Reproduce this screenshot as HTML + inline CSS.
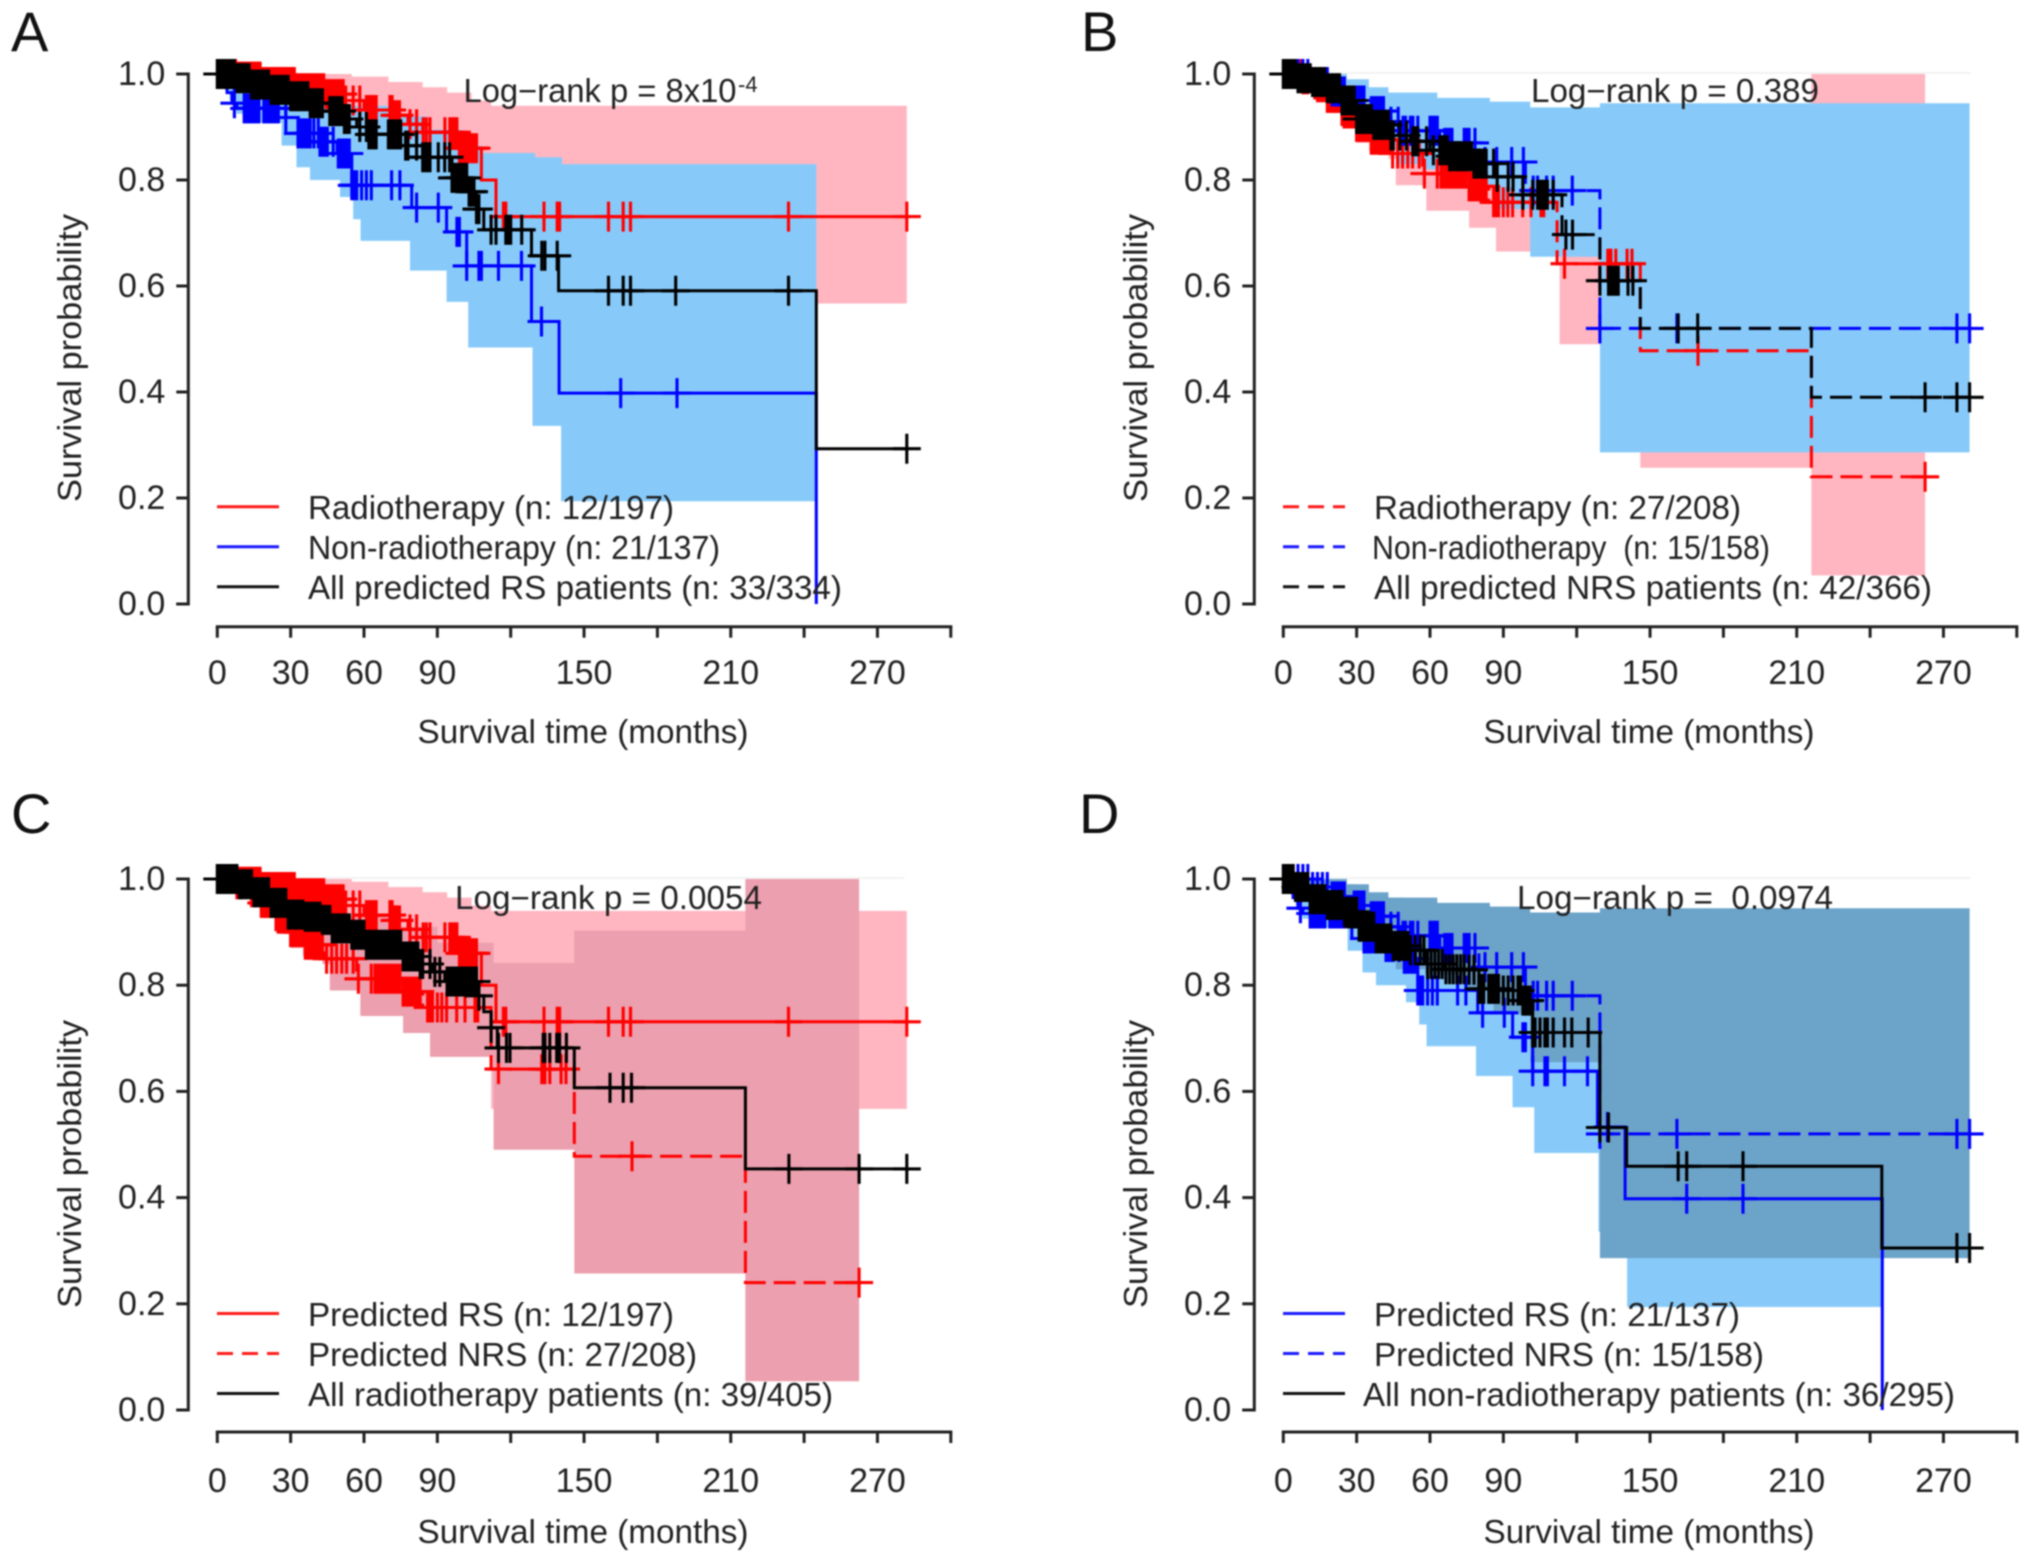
<!DOCTYPE html>
<html lang="en">
<head>
<meta charset="utf-8">
<title>Kaplan-Meier survival curves</title>
<style>
html,body{margin:0;padding:0;background:#fff;width:2031px;height:1561px;overflow:hidden}
svg{display:block;filter:blur(0.85px)}
text{font-family:"Liberation Sans",Arial,sans-serif;fill:#222}
.t{font-size:33px}
.n{font-size:34px}
.l{font-size:56px;fill:#111}
</style>
</head>
<body>
<svg id="figure" xmlns="http://www.w3.org/2000/svg" width="2031" height="1561" viewBox="0 0 2031 1561">
  <rect width="2031" height="1561" fill="#fff"/>

  <g id="panel-a"></g>
  <g id="panel-b"></g>
  <g id="panel-c"></g>
  <g id="panel-d"></g>

  <!-- Panel A text -->
  <text class="l" x="11" y="51">A</text>
  <text class="t" transform="translate(81,358) rotate(-90)" text-anchor="middle" textLength="288" lengthAdjust="spacingAndGlyphs">Survival probability</text>
  <text class="t" x="583" y="743" text-anchor="middle" textLength="331" lengthAdjust="spacingAndGlyphs">Survival time (months)</text>
  <text class="t" x="463.5" y="102" textLength="273" lengthAdjust="spacingAndGlyphs">Log−rank p = 8x10</text>
  <text x="738" y="92" style="font-size:22px">-4</text>
  <line x1="217" x2="279" y1="506.7" y2="506.7" stroke="#ff1a1a" stroke-width="3"/>
  <line x1="217" x2="279" y1="546.7" y2="546.7" stroke="#1a1aff" stroke-width="3"/>
  <line x1="217" x2="279" y1="586.7" y2="586.7" stroke="#111" stroke-width="3"/>
  <text class="t" x="308" y="519" textLength="366" lengthAdjust="spacingAndGlyphs">Radiotherapy (n: 12/197)</text>
  <text class="t" x="308" y="559" textLength="412" lengthAdjust="spacingAndGlyphs">Non-radiotherapy (n: 21/137)</text>
  <text class="t" x="308" y="599" textLength="534" lengthAdjust="spacingAndGlyphs">All predicted RS patients (n: 33/334)</text>

  <!-- Panel B text -->
  <text class="l" x="1081" y="51">B</text>
  <text class="t" transform="translate(1147,358) rotate(-90)" text-anchor="middle" textLength="288" lengthAdjust="spacingAndGlyphs">Survival probability</text>
  <text class="t" x="1649" y="743" text-anchor="middle" textLength="331" lengthAdjust="spacingAndGlyphs">Survival time (months)</text>
  <text class="t" x="1531" y="102" textLength="288" lengthAdjust="spacingAndGlyphs">Log−rank p = 0.389</text>
  <line x1="1283" x2="1345" y1="506.7" y2="506.7" stroke="#ff1a1a" stroke-width="3" stroke-dasharray="16 9"/>
  <line x1="1283" x2="1345" y1="546.7" y2="546.7" stroke="#1a1aff" stroke-width="3" stroke-dasharray="16 9"/>
  <line x1="1283" x2="1345" y1="586.7" y2="586.7" stroke="#111" stroke-width="3" stroke-dasharray="16 9"/>
  <text class="t" x="1374" y="519" textLength="367" lengthAdjust="spacingAndGlyphs">Radiotherapy (n: 27/208)</text>
  <text class="t" x="1372" y="559" xml:space="preserve" textLength="398" lengthAdjust="spacingAndGlyphs">Non-radiotherapy  (n: 15/158)</text>
  <text class="t" x="1374" y="599" textLength="558" lengthAdjust="spacingAndGlyphs">All predicted NRS patients (n: 42/366)</text>

  <!-- Panel C text -->
  <text class="l" x="11" y="833">C</text>
  <text class="t" transform="translate(81,1164) rotate(-90)" text-anchor="middle" textLength="288" lengthAdjust="spacingAndGlyphs">Survival probability</text>
  <text class="t" x="583" y="1543" text-anchor="middle" textLength="331" lengthAdjust="spacingAndGlyphs">Survival time (months)</text>
  <text class="t" x="455" y="909" textLength="307" lengthAdjust="spacingAndGlyphs">Log−rank p = 0.0054</text>
  <line x1="217" x2="279" y1="1313.5" y2="1313.5" stroke="#ff1a1a" stroke-width="3"/>
  <line x1="217" x2="279" y1="1353.5" y2="1353.5" stroke="#ff1a1a" stroke-width="3" stroke-dasharray="16 9"/>
  <line x1="217" x2="279" y1="1393.5" y2="1393.5" stroke="#111" stroke-width="3"/>
  <text class="t" x="308" y="1326" textLength="366" lengthAdjust="spacingAndGlyphs">Predicted RS (n: 12/197)</text>
  <text class="t" x="308" y="1366" textLength="389" lengthAdjust="spacingAndGlyphs">Predicted NRS (n: 27/208)</text>
  <text class="t" x="308" y="1406" textLength="525" lengthAdjust="spacingAndGlyphs">All radiotherapy patients (n: 39/405)</text>

  <!-- Panel D text -->
  <text class="l" x="1079" y="833">D</text>
  <text class="t" transform="translate(1147,1164) rotate(-90)" text-anchor="middle" textLength="288" lengthAdjust="spacingAndGlyphs">Survival probability</text>
  <text class="t" x="1649" y="1543" text-anchor="middle" textLength="331" lengthAdjust="spacingAndGlyphs">Survival time (months)</text>
  <text class="t" x="1517" y="909" xml:space="preserve" textLength="316" lengthAdjust="spacingAndGlyphs">Log−rank p =  0.0974</text>
  <line x1="1283" x2="1345" y1="1313.5" y2="1313.5" stroke="#1a1aff" stroke-width="3"/>
  <line x1="1283" x2="1345" y1="1353.5" y2="1353.5" stroke="#1a1aff" stroke-width="3" stroke-dasharray="16 9"/>
  <line x1="1283" x2="1345" y1="1393.5" y2="1393.5" stroke="#111" stroke-width="3"/>
  <text class="t" x="1374" y="1326" textLength="366" lengthAdjust="spacingAndGlyphs">Predicted RS (n: 21/137)</text>
  <text class="t" x="1374" y="1366" textLength="390" lengthAdjust="spacingAndGlyphs">Predicted NRS (n: 15/158)</text>
  <text class="t" x="1363" y="1406" textLength="592" lengthAdjust="spacingAndGlyphs">All non-radiotherapy patients (n: 36/295)</text>
</svg>

<script>
// Axis ticks
const xTickValues = [0,30,60,90,120,150,180,210,240,270,300];
const xTickLabels = ['0','30','60','90','','150','','210','','270',''];
const yTickValues = [0,0.2,0.4,0.6,0.8,1];
const yTickLabels = ['0.0','0.2','0.4','0.6','0.8','1.0'];

// Predicted RS, radiotherapy
const rsRadioTimes = [0,8,18,32,44,52,60,72,78,84,99,108,114,282];
const rsRadioSurv = [1,.995,.985,.973,.962,.95,.932,.922,.905,.89,.86,.80,.731,.731];
const rsRadioCensor = [6.5,7.5,8.5,9.5,10.5,11.5,12.5,13.5,14.5,15.5,16.5,17.5,18.5,19.5,20.5,21.5,22.5,23.5,24.5,25.5,26.5,27.5,28.5,29.5,30.5,31.5,32.5,33.5,34.5,35.5,36.5,37.5,38.5,39.5,40.5,41.5,42.5,43.5,44.5,45.5,46.5,47.5,48.5,49.5,50.5,51.5,52.5,55.6,58.3,61,62,63,64,65,70.6,71.5,72.5,73.5,74.5,78.8,81.5,84.2,85.5,87,93.1,95.1,96,97,98,99,100,101,102,103,104,105,106,117,118,133.6,139,140,160,166,169,233.6,282];
const rsRadioUpperTimes = [0,45,55,70,84,94,104,112,282];
const rsRadioUpper = [1,1,.995,.985,.975,.965,.95,.94,.94];
const rsRadioLowerTimes = [0,40,70,90,100,112,282];
const rsRadioLower = [1,.93,.88,.83,.76,.567,.567];

// Predicted RS, non-radiotherapy
const rsNonTimes = [0,3,4,6,8,28,33,42,49,55,79.5,93.8,102,128.5,139.8,245];
const rsNonSurv = [1,.985,.965,.945,.935,.918,.888,.872,.85,.79,.748,.702,.638,.533,.398,0];
const rsNonCensor = [.4,2,7,11,12,13,14,15,16,17,19,20,21,22,23,24,25,28,33,34,35,36,37,38,39.5,41.3,42,43,44,45,47.4,49.5,50,51,52,53,54,55,56,57,59,61,63,71.3,74.7,81.5,90.4,98,99,102,107,108,115,124.4,132.6,165,188];
const rsNonUpperTimes = [0,10,30,50,70,85,100,108,130,141,245];
const rsNonUpper = [1,.99,.965,.94,.92,.895,.865,.851,.843,.83,.83];
const rsNonLowerTimes = [0,3,5,7.9,12,26.3,32.4,37.9,50.2,55.6,58.6,78.8,93.8,102.6,128.9,140.6,245];
const rsNonLower = [1,.97,.95,.925,.908,.865,.824,.8,.768,.726,.685,.629,.57,.484,.336,.194,.194];

// All predicted RS
const rsAllTimes = [0,8,14,22,30,38,46,52,57,62,77,84,96,103,106,109,128.5,139.6,245,282];
const rsAllSurv = [1,.992,.98,.97,.958,.945,.93,.915,.90,.886,.865,.843,.804,.778,.745,.706,.657,.591,.293,.293];
const rsAllCensor = [0,1,2,3,4,5,6,7,8,9,10,11,12,13,14,15,16,17,18,19,20,21,22,23,24,25,26,27,28,29,30,31,32,33,34,35,36,37,38,39,40,41,42,43,46,47,48,49,50,51,52,53,54,58.3,61,62,63,64,65,70,71,72,73,74,75,77,78,81.5,84,85,86,87,90.4,93,95,96,97,98,99,100,101,102,103,104,105,106,107,112,114,118,119,120,124.5,132.7,134,139,160,166,169,187.5,233.6,282];

// Predicted NRS, radiotherapy
const nrsRadioTimes = [0,8,13,18,24,30,36,44,57,76,84,112,146,216,263];
const nrsRadioSurv = [1,.99,.975,.955,.93,.90,.876,.85,.812,.788,.758,.642,.478,.24,.24];
const nrsRadioCensor = [2,3,4,5,6,7,8,9,10,14,15,16,17,18,19,20,21,22,23,24,25,26,27,28,29,30,31,32,33,34,35,36,37,38,39,40,41,42,43,44.7,46.8,48.8,50.9,52.9,55.6,57.7,63,64.5,65.5,66.5,67.5,68.5,69.5,70.5,71.5,72.5,73.5,74.7,76,77,78,79,80,81,82,83,86,87,88,90,91.8,93.8,97.9,101.3,105.4,106.5,115,132.7,133.5,134,136,140.6,142.6,169.6,262.5];
const nrsRadioUpperTimes = [0,15,30,50,70,90,113,146,216,262.5];
const nrsRadioUpper = [1,.985,.955,.93,.91,.88,.842,.903,1,1];
const nrsRadioLowerTimes = [0,10,18,25,30,35,43,46,58.5,76,87,113,146,216,262.5];
const nrsRadioLower = [1,.98,.95,.91,.87,.855,.84,.79,.742,.71,.665,.49,.257,.054,.054];

// Predicted NRS, non-radiotherapy
const nrsNonTimes = [0,12,20,28,35,44,48,64,80,99,129.5,280.7];
const nrsNonSurv = [1,.985,.967,.95,.93,.91,.893,.87,.834,.78,.52,.52];
const nrsNonCensor = [2,4,6,8,10,12,14,16,18,20,21,22,23,24,25,29,30,31,32,33,36,37,38,39,40,41,44,47,49,50,52,53,55,60,61,62,63,66,67,68,69,74,75,76,78.4,82.5,87.3,93.4,98.2,102.2,104,107.7,110.4,118.2,129.5,161,275.5,280.7];
const nrsNonUpperTimes = [0,26,35,43,63,84.5,101,129.5,280.7];
const nrsNonUpper = [1,.99,.975,.965,.955,.948,.937,.945,.945];
const nrsNonLowerTimes = [0,8,20,30,38,46,58,75,86,101,129.5,280.7];
const nrsNonLower = [1,.98,.95,.91,.87,.83,.82,.79,.745,.655,.286,.286];

// All predicted NRS
const nrsAllTimes = [0,6,12,18,24,30,37,44,52,60,68,78,87,98,114,129.5,146,216,281];
const nrsAllSurv = [1,.992,.985,.973,.95,.915,.904,.884,.873,.856,.845,.831,.806,.772,.697,.61,.52,.39,.39];
const nrsAllCensor = [0,1,2,3,4,5,6,7,8,9,10,11,12,13,14,15,16,17,18,19,20,21,22,23,24,25,26,27,28,29,30,31,32,33,34,35,36,37,38,39,40,41,42,43,44,45,47.7,50.4,53,54,55,58.6,61.4,64,65,66,67,68,69,70,71,72,73,74,75,76,77,78,79,80,81,82,83,86,87.5,92,94,98,102,104,105,106,107,108,110.4,115.6,118.3,129.5,133,134,135,136,137,141,143,161.5,169.5,262.5,275.5,280.7];

// All radiotherapy
const rtAllTimes = [0,9,15,22,29,36,43,47,55,61,76,83,88,93,107,109,112,114.5,146,216,282];
const rtAllSurv = [1,.99,.975,.955,.933,.929,.923,.907,.895,.876,.854,.84,.825,.807,.78,.75,.72,.682,.607,.454,.454];
const rtAllCensor = [0,1,2,3,4,5,6,7,8,9,10,11,12,13,14,15,16,17,18,19,20,21,22,23,24,25,26,27,28,29,30,31,32,33,34,35,36,37,38,39,40,41,42,43,44,45,46,47,48,49,50,51,52,53,54,55,56,57,58,59,60,61,62,63,64,65,66,67,68,69,70,71,72,73,74,75,76,77,78,79,80,81,82,83,84,87,89,91,94,95,96,97,98,99,100,101,102,103,104,105,106,107,112,115,118.3,119.7,133.3,134,136,138.8,139.5,140,142.8,160.6,166,169.4,233.8,262.5,282];

// All non-radiotherapy
const nonAllTimes = [0,5,11,18,25,31,38,45,52,58,66,75,80,90,98,102,129.5,140.4,244.8,281];
const nonAllSurv = [1,.985,.962,.951,.938,.91,.888,.874,.866,.84,.83,.829,.793,.79,.771,.711,.532,.459,.305,.305];
const nonAllCensor = [0,1,2,3,4,5,6,7,8,9,10,11,12,13,14,15,16,17,18,19,20,21,22,23,24,25,26,27,28,29,30,31,32,33,34,35,36,37,38,39,40,41,42,43,44,45,46,47,48,49,50,51,52,54,56,57.5,59,60.5,62,63.5,65,66.5,68,69.5,71,72.5,74,76,78,80,81,82,84,85,86,87,88,90,92,94,96,97,98,99,100,101,102,103,105,107,108,110.4,115,118,124.7,129.5,133,161.5,165,188,275.5,280.7];

const SVG_NS = 'http://www.w3.org/2000/svg';
const X_UNIT = 2.445;
const PINK = '#ffb6c1', BLUE = '#87cafa', DARK_PINK = '#ec9fae', DARK_BLUE = '#6ca3c9';
const RED_LINE = '#ff0000', BLUE_LINE = '#0000ff', BLACK_LINE = '#000000';

const bandRsRadio = {name:'rs-radiotherapy', ut:rsRadioUpperTimes, u:rsRadioUpper, lt:rsRadioLowerTimes, l:rsRadioLower};
const bandRsNon = {name:'rs-non-radiotherapy', ut:rsNonUpperTimes, u:rsNonUpper, lt:rsNonLowerTimes, l:rsNonLower};
const bandNrsRadio = {name:'nrs-radiotherapy', ut:nrsRadioUpperTimes, u:nrsRadioUpper, lt:nrsRadioLowerTimes, l:nrsRadioLower};
const bandNrsNon = {name:'nrs-non-radiotherapy', ut:nrsNonUpperTimes, u:nrsNonUpper, lt:nrsNonLowerTimes, l:nrsNonLower};

const curveRsRadio = {name:'rs-radiotherapy', t:rsRadioTimes, s:rsRadioSurv, c:rsRadioCensor, color:RED_LINE};
const curveRsNon = {name:'rs-non-radiotherapy', t:rsNonTimes, s:rsNonSurv, c:rsNonCensor, color:BLUE_LINE};
const curveRsAll = {name:'all-rs', t:rsAllTimes, s:rsAllSurv, c:rsAllCensor, color:BLACK_LINE};
const curveNrsRadio = {name:'nrs-radiotherapy', t:nrsRadioTimes, s:nrsRadioSurv, c:nrsRadioCensor, color:RED_LINE, dash:true};
const curveNrsNon = {name:'nrs-non-radiotherapy', t:nrsNonTimes, s:nrsNonSurv, c:nrsNonCensor, color:BLUE_LINE, dash:true};
const curveNrsAll = {name:'all-nrs', t:nrsAllTimes, s:nrsAllSurv, c:nrsAllCensor, color:BLACK_LINE, dash:true};
const curveRtAll = {name:'all-radiotherapy', t:rtAllTimes, s:rtAllSurv, c:rtAllCensor, color:BLACK_LINE};
const curveNonAll = {name:'all-non-radiotherapy', t:nonAllTimes, s:nonAllSurv, c:nonAllCensor, color:BLACK_LINE};

const panels = [
  {id:'panel-a', x0:217.3, y0:604, yUnit:530, axisX:188.3, axisY:626.7, labelDy:57.5, faint:false,
   bands:[[bandRsRadio,PINK],[bandRsNon,BLUE]], curves:[curveRsRadio,curveRsNon,curveRsAll]},
  {id:'panel-b', x0:1283.3, y0:604, yUnit:530, axisX:1254.3, axisY:626.7, labelDy:57.5, faint:true,
   bands:[[bandNrsRadio,PINK],[bandNrsNon,BLUE]], curves:[curveNrsRadio,curveNrsNon,curveNrsAll]},
  {id:'panel-c', x0:217.3, y0:1410, yUnit:531, axisX:188.3, axisY:1432, labelDy:60, faint:true,
   bands:[[bandRsRadio,PINK],[bandNrsRadio,DARK_PINK]], curves:[curveRsRadio,curveNrsRadio,curveRtAll]},
  {id:'panel-d', x0:1283.3, y0:1410, yUnit:531, axisX:1254.3, axisY:1432, labelDy:60, faint:true,
   bands:[[bandRsNon,BLUE],[bandNrsNon,DARK_BLUE]], curves:[curveRsNon,curveNrsNon,curveNonAll]}
];

function xScale(p, t) { return p.x0 + t * X_UNIT; }
function yScale(p, s) { return p.y0 - s * p.yUnit; }

function make(tag, parent, name) {
  const el = document.createElementNS(SVG_NS, tag);
  
  
  parent.appendChild(el);
  return el;
}

function stepPoints(p, times, vals) {
  const pts = [];
  for (let i = 0; i < times.length; i++) {
    const x = xScale(p, times[i]);
    if (i > 0) pts.push([x, yScale(p, vals[i - 1])]);
    pts.push([x, yScale(p, vals[i])]);
  }
  return pts;
}

function survAt(times, vals, t) {
  let v = vals[0];
  for (let i = 0; i < times.length; i++) {
    if (times[i] <= t) v = vals[i];
  }
  return v;
}

function fmt(pts) {
  return pts.map(q => q[0].toFixed(1) + ' ' + q[1].toFixed(1)).join(' L');
}

function drawBand(p, g, band, color) {
  const up = stepPoints(p, band.ut, band.u);
  const low = stepPoints(p, band.lt, band.l).reverse();
  const el = make('path', g, 'ci-band-' + band.name);
  el.setAttribute('d', 'M' + fmt(up.concat(low)) + ' Z');
  el.setAttribute('fill', color);
}

function drawCurve(p, g, curve) {
  const grp = make('g', g, 'curve-' + curve.name);
  const line = make('path', grp, 'survival-line-' + curve.name);
  line.setAttribute('d', 'M' + fmt(stepPoints(p, curve.t, curve.s)));
  line.setAttribute('fill', 'none');
  line.setAttribute('stroke', curve.color);
  line.setAttribute('stroke-width', '3');
  if (curve.dash) line.setAttribute('stroke-dasharray', '22 8');
  curve.c.forEach(t => {
    const x = xScale(p, t);
    const y = yScale(p, survAt(curve.t, curve.s, t));
    const m = make('path', grp, 'censor-mark');
    m.setAttribute('d', 'M' + (x - 14).toFixed(1) + ' ' + y.toFixed(1) + 'H' + (x + 14).toFixed(1) + 'M' + x.toFixed(1) + ' ' + (y - 15).toFixed(1) + 'V' + (y + 15).toFixed(1));
    m.setAttribute('fill', 'none');
    m.setAttribute('stroke', curve.color);
    m.setAttribute('stroke-width', '3.1');
  });
}

function drawAxes(p, g) {
  const axisColor = '#222';
  const yAxis = make('path', g, 'y-axis');
  yAxis.setAttribute('d', 'M' + (p.axisX - 12) + ' ' + yScale(p, 1) + 'H' + p.axisX + 'V' + yScale(p, 0) + 'H' + (p.axisX - 12));
  yAxis.setAttribute('fill', 'none');
  yAxis.setAttribute('stroke', axisColor);
  yAxis.setAttribute('stroke-width', '3');
  yTickValues.forEach((v, i) => {
    const y = yScale(p, v);
    const tick = make('line', g, 'y-tick');
    tick.setAttribute('x1', p.axisX - 12);
    tick.setAttribute('x2', p.axisX);
    tick.setAttribute('y1', y);
    tick.setAttribute('y2', y);
    tick.setAttribute('stroke', axisColor);
    tick.setAttribute('stroke-width', '3');
    const label = make('text', g, 'y-tick-label');
    label.setAttribute('class', 'n');
    label.setAttribute('x', p.axisX - 23);
    label.setAttribute('y', y + 11);
    label.setAttribute('text-anchor', 'end');
    label.textContent = yTickLabels[i];
  });
  const xAxis = make('line', g, 'x-axis');
  xAxis.setAttribute('x1', xScale(p, xTickValues[0]) - 1.5);
  xAxis.setAttribute('x2', xScale(p, xTickValues[xTickValues.length - 1]) + 1.5);
  xAxis.setAttribute('y1', p.axisY);
  xAxis.setAttribute('y2', p.axisY);
  xAxis.setAttribute('stroke', axisColor);
  xAxis.setAttribute('stroke-width', '3');
  xTickValues.forEach((v, i) => {
    const x = xScale(p, v);
    const tick = make('line', g, 'x-tick');
    tick.setAttribute('x1', x);
    tick.setAttribute('x2', x);
    tick.setAttribute('y1', p.axisY);
    tick.setAttribute('y2', p.axisY + 11);
    tick.setAttribute('stroke', axisColor);
    tick.setAttribute('stroke-width', '3');
    if (xTickLabels[i]) {
      const label = make('text', g, 'x-tick-label');
      label.setAttribute('class', 'n');
      label.setAttribute('x', x);
      label.setAttribute('y', p.axisY + p.labelDy);
      label.setAttribute('text-anchor', 'middle');
      label.textContent = xTickLabels[i];
    }
  });
}

panels.forEach(p => {
  const g = document.getElementById(p.id);
  if (p.faint) {
    const top = make('line', g, 'ci-upper-limit-line');
    top.setAttribute('x1', xScale(p, 0));
    top.setAttribute('x2', xScale(p, 281));
    top.setAttribute('y1', yScale(p, 1) - 1);
    top.setAttribute('y2', yScale(p, 1) - 1);
    top.setAttribute('stroke', '#f2f2f2');
    top.setAttribute('stroke-width', '2');
  }
  p.bands.forEach(b => drawBand(p, g, b[0], b[1]));
  p.curves.forEach(c => drawCurve(p, g, c));
  drawAxes(p, g);
});
</script>
</body>
</html>
